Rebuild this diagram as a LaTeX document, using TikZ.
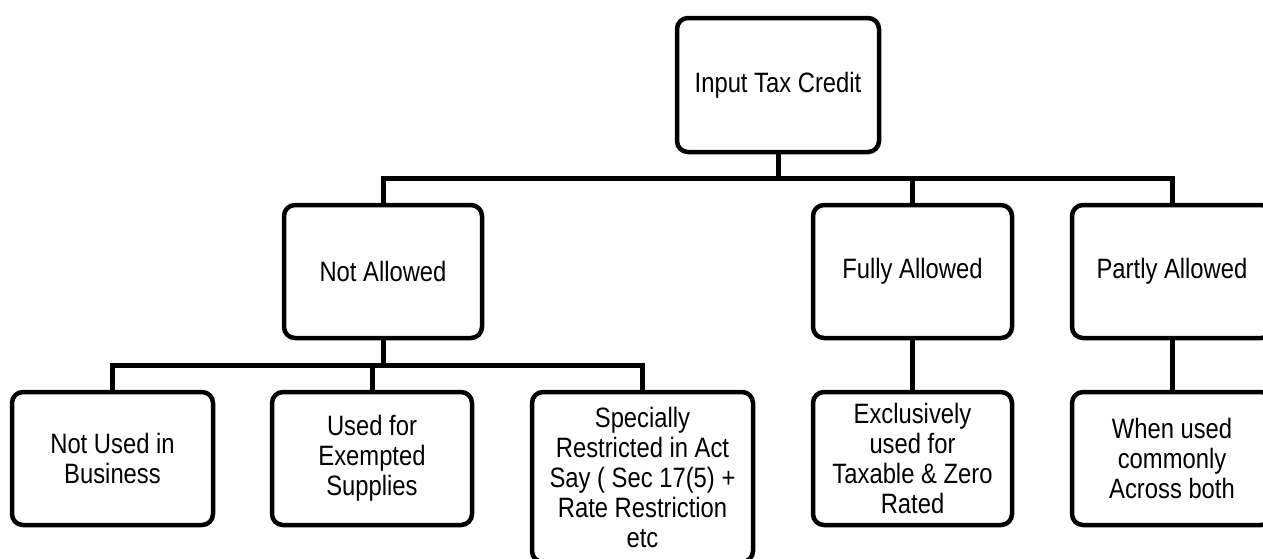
\documentclass[tikz,border=0pt]{standalone}
\usepackage{fontspec}
\setmainfont{Liberation Sans}[FakeStretch=0.85]
\begin{document}
\begin{tikzpicture}[x=1pt,y=-1pt,
  box/.style={draw=black, line width=4.5pt, rounded corners=11pt, fill=white,
    align=center, inner sep=0pt, minimum height=134pt,
    font=\fontsize{28}{30}\selectfont},
  link/.style={draw=black, line width=5pt}]
  \useasboundingbox (0,0) rectangle (1263,558);
  \clip (0,0) rectangle (1263,558);

  % root
  \node[box, minimum width=202pt] (itc) at (778,85) {Input Tax Credit};

  % second level
  \node[box, minimum width=198pt, minimum height=133pt] (na) at (383,271.5) {Not Allowed};
  \node[box, minimum width=199pt, minimum height=133pt] (fa) at (912.5,271.5) {Fully Allowed};
  \node[box, minimum width=200pt, minimum height=133pt] (pa) at (1172,271.5) {Partly Allowed};

  % third level
  \node[box, minimum width=201pt, minimum height=133pt] (nub) at (112.5,458.5) {Not Used in\\Business};
  \node[box, minimum width=200pt, minimum height=133pt] (ufe) at (372,458.5) {Used for\\Exempted\\Supplies};
  \node[box, minimum width=221pt, minimum height=170pt] (sra) at (642.5,477) {Specially\\Restricted in Act\\Say ( Sec 17(5) +\\Rate Restriction\\etc};
  \node[box, minimum width=199pt, minimum height=133pt] (ex) at (912.5,458.5) {Exclusively\\used for\\Taxable \& Zero\\Rated};
  \node[box, minimum width=200pt, minimum height=133pt] (wu) at (1172,458.5) {When used\\commonly\\Across both};

  % bus lines
  \coordinate (bus1) at (0,178);
  \coordinate (bus2) at (0,365);

  \draw[link] (na.north) -- (na.north |- bus1) -- (pa.north |- bus1) -- (pa.north);
  \draw[link] (itc.south) -- (itc.south |- bus1);
  \draw[link] (fa.north) -- (fa.north |- bus1);

  \draw[link] (nub.north) -- (nub.north |- bus2) -- (sra.north |- bus2) -- (sra.north);
  \draw[link] (na.south) -- (na.south |- bus2);
  \draw[link] (ufe.north) -- (ufe.north |- bus2);

  \draw[link] (fa.south) -- (ex.north);
  \draw[link] (pa.south) -- (wu.north);
\end{tikzpicture}
\end{document}
